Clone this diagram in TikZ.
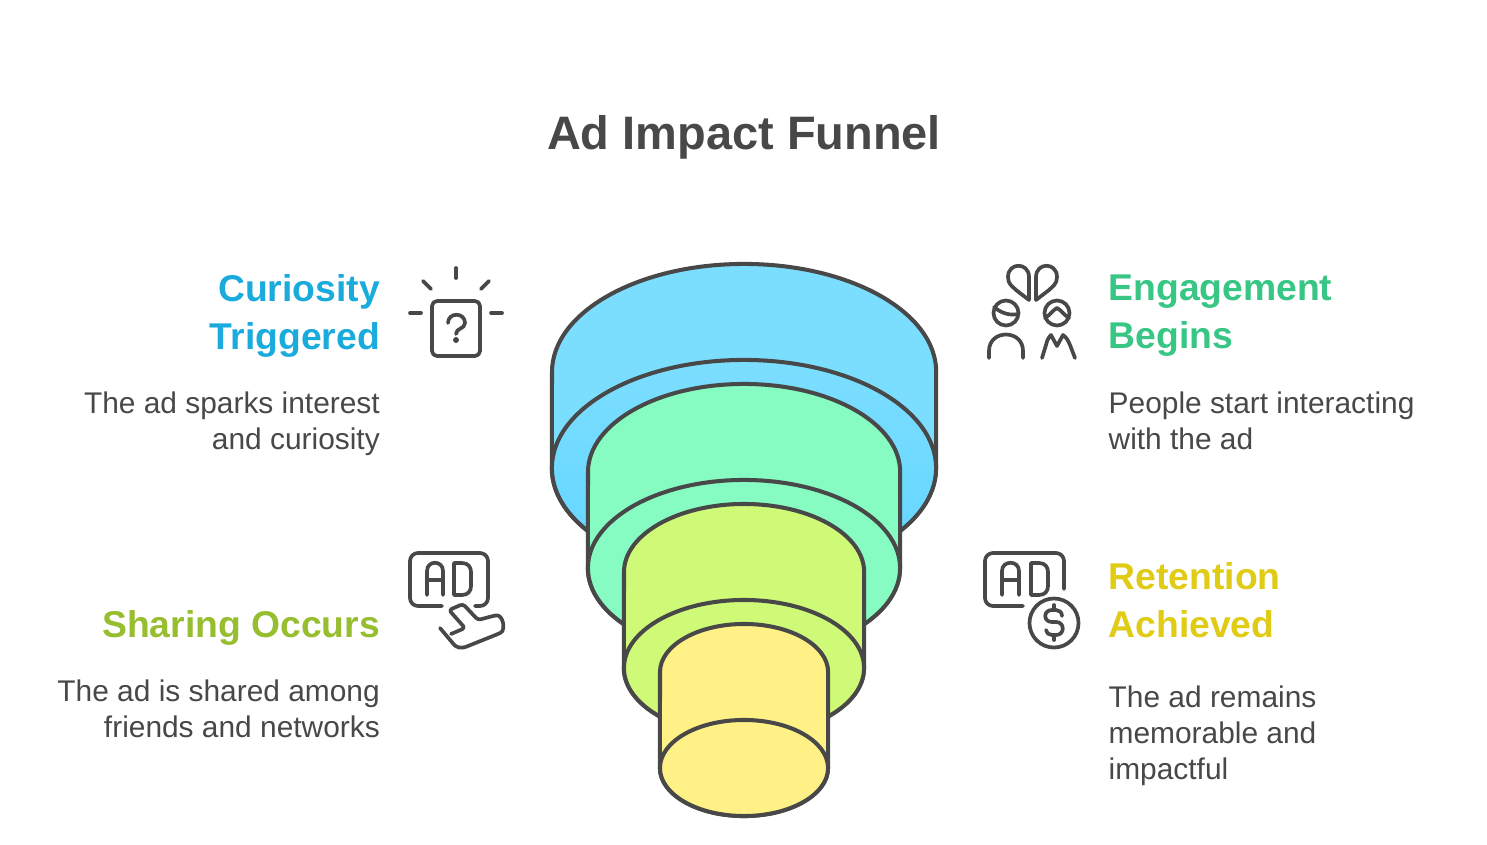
\documentclass[tikz,border=0pt]{standalone}
\usepackage{fontspec}
\setmainfont{Liberation Sans}
\definecolor{inkgray}{RGB}{72,72,72}
\definecolor{bluefill}{RGB}{124,222,255}
\definecolor{bluedeep}{RGB}{98,213,255}
\definecolor{greenfill}{RGB}{134,252,194}
\definecolor{limefill}{RGB}{207,250,120}
\definecolor{yellowfill}{RGB}{255,241,133}
\definecolor{bluehead}{RGB}{26,171,221}
\definecolor{greenhead}{RGB}{55,198,132}
\definecolor{limehead}{RGB}{150,190,47}
\definecolor{yellowhead}{RGB}{224,203,21}
\tikzset{
  funnelline/.style={draw=inkgray,line width=1.15pt,line join=round},
  iconline/.style={draw=inkgray,line width=1.05pt,line cap=round,line join=round},
  titletext/.style={inner sep=0pt,text=inkgray,font=\fontsize{13.35}{16}\selectfont\bfseries},
  headtext/.style={inner sep=0pt,font=\fontsize{10.6}{13.66}\selectfont\bfseries},
  bodytext/.style={inner sep=0pt,text=inkgray,font=\fontsize{8.5}{10.24}\selectfont},
}
\begin{document}
\begin{tikzpicture}[x=0.01cm,y=-0.01cm]%
\useasboundingbox (0,0) rectangle (1487,845);%
\fill[white] (0,0) rectangle (1487,845);%
\node[titletext] (title) at (744,137) {Ad Impact Funnel};%
% funnel
\draw[funnelline,fill=bluefill] (552,372) arc[start angle=180,end angle=0,x radius=1.92cm,y radius=1.08cm] -- (936,468) arc[start angle=0,end angle=-180,x radius=1.92cm,y radius=1.08cm] -- cycle;%
\draw[funnelline,top color=bluefill,middle color=bluefill,bottom color=bluedeep] (744,468) ellipse[x radius=1.92cm,y radius=1.08cm];%
\draw[funnelline,fill=greenfill] (588,472) arc[start angle=180,end angle=0,x radius=1.56cm,y radius=0.88cm] -- (900,568) arc[start angle=0,end angle=-180,x radius=1.56cm,y radius=0.88cm] -- cycle;%
\draw[funnelline,fill=greenfill] (744,568) ellipse[x radius=1.56cm,y radius=0.88cm];%
\draw[funnelline,fill=limefill] (624,572) arc[start angle=180,end angle=0,x radius=1.20cm,y radius=0.68cm] -- (864,668) arc[start angle=0,end angle=-180,x radius=1.20cm,y radius=0.68cm] -- cycle;%
\draw[funnelline,fill=limefill] (744,668) ellipse[x radius=1.20cm,y radius=0.68cm];%
\draw[funnelline,fill=yellowfill] (660,672) arc[start angle=180,end angle=0,x radius=0.84cm,y radius=0.48cm] -- (828,768) arc[start angle=0,end angle=-180,x radius=0.84cm,y radius=0.48cm] -- cycle;%
\draw[funnelline,fill=yellowfill] (744,768) ellipse[x radius=0.84cm,y radius=0.48cm];%
% left texts
\node[headtext,text=bluehead,align=right,anchor=north east] (curiosity) at (380.5,274) {Curiosity\\Triggered};%
\node[bodytext,align=right,anchor=north east] (curiositybody) at (380.5,391) {The ad sparks interest\\and curiosity};%
\node[headtext,text=limehead,align=right,anchor=north east] (sharing) at (380.5,610) {Sharing Occurs};%
\node[bodytext,align=right,anchor=north east] (sharingbody) at (380.5,679) {The ad is shared among\\friends and networks};%
% right texts
\node[headtext,text=greenhead,align=left,anchor=north west] (engagement) at (1108,274.5) {Engagement\\Begins};%
\node[bodytext,align=left,anchor=north west] (engagementbody) at (1108,391) {People start interacting\\with the ad};%
\node[headtext,text=yellowhead,align=left,anchor=north west] (retention) at (1108,562) {Retention\\Achieved};%
\node[bodytext,align=left,anchor=north west] (retentionbody) at (1108,685) {The ad remains\\memorable and\\impactful};%
% question icon
\draw[iconline,rounded corners=0.05cm] (432,301) rectangle (480,356);%
\draw[iconline] (456,268) -- (456,278);%
\draw[iconline] (423,281) -- (431,289);%
\draw[iconline] (489,281) -- (481,289);%
\draw[iconline] (410,313) -- (421,313);%
\draw[iconline] (491,313) -- (502,313);%
\draw[iconline] (448,323) .. controls (448,312) and (465,312) .. (465,323) .. controls (465,329) and (456,328) .. (456,334);%
\fill[inkgray] (456,340) circle[radius=0.03cm];%
% people icon
\draw[iconline] (1029,300) -- (1029,277) .. controls (1029,262) and (1008,262) .. (1008,277) .. controls (1008,284) and (1012,286) .. (1016,290) -- cycle;%
\draw[iconline] (1036,300) -- (1036,277) .. controls (1036,262) and (1057,262) .. (1057,277) .. controls (1057,284) and (1053,286) .. (1049,290) -- cycle;%
\draw[iconline] (1006,313) circle[radius=0.125cm];%
\draw[iconline] (994,307) .. controls (1001,313) and (1010,316) .. (1018,314);%
\draw[iconline] (989,358) -- (989,351) .. controls (989,329) and (1023,329) .. (1023,351) -- (1023,358);%
\draw[iconline] (1057,313) circle[radius=0.125cm];%
\draw[iconline] (1045,318) .. controls (1050,315) and (1053,310) .. (1057,308) .. controls (1061,310) and (1064,315) .. (1069,318);%
\draw[iconline] (1042,358) -- (1046,345) .. controls (1047,340) and (1049,337) .. (1051,335) -- (1057,346) -- (1063,335) .. controls (1066,337) and (1068,340) .. (1070,345) -- (1075,358);%
% ad plane icon
\draw[iconline,rounded corners=0.08cm] (442,606) -- (410,606) -- (410,553) -- (488,553) -- (488,606) -- (475,606);%
\draw[iconline] (427,595) -- (427,571) .. controls (427,560) and (443,560) .. (443,571) -- (443,595);%
\draw[iconline] (427,580) -- (443,580);%
\draw[iconline] (454,563) -- (462,563) .. controls (468,563) and (471,567) .. (471,572) -- (471,586) .. controls (471,591) and (468,595) .. (462,595) -- (454,595) -- cycle;%
\draw[iconline,rounded corners=0.03cm] (440,628) -- (456,647) -- (463,648) -- (498,634) .. controls (506,630) and (503,614) .. (493,616) -- (478,620) -- (463,604) -- (449,610) -- (465,628) -- (451,634);%
% ad dollar icon
\draw[iconline,rounded corners=0.08cm] (1064,589) -- (1064,553) -- (985,553) -- (985,606) -- (1023,606);%
\draw[iconline] (1002,595) -- (1002,571) .. controls (1002,560) and (1019,560) .. (1019,571) -- (1019,595);%
\draw[iconline] (1002,580) -- (1019,580);%
\draw[iconline] (1031,563) -- (1039,563) .. controls (1045,563) and (1048,567) .. (1048,572) -- (1048,586) .. controls (1048,591) and (1045,595) .. (1039,595) -- (1031,595) -- cycle;%
\draw[iconline] (1054,623) circle[radius=0.245cm];%
\draw[iconline] (1062,616) .. controls (1062,612) and (1059,610) .. (1056,610) -- (1052,610) .. controls (1043,610) and (1043,622) .. (1052,622) -- (1056,622) .. controls (1065,622) and (1065,635) .. (1056,635) -- (1052,635) .. controls (1049,635) and (1046,633) .. (1046,630);%
\draw[iconline] (1054,605) -- (1054,610);%
\draw[iconline] (1054,635) -- (1054,640);%
\end{tikzpicture}
\end{document}
